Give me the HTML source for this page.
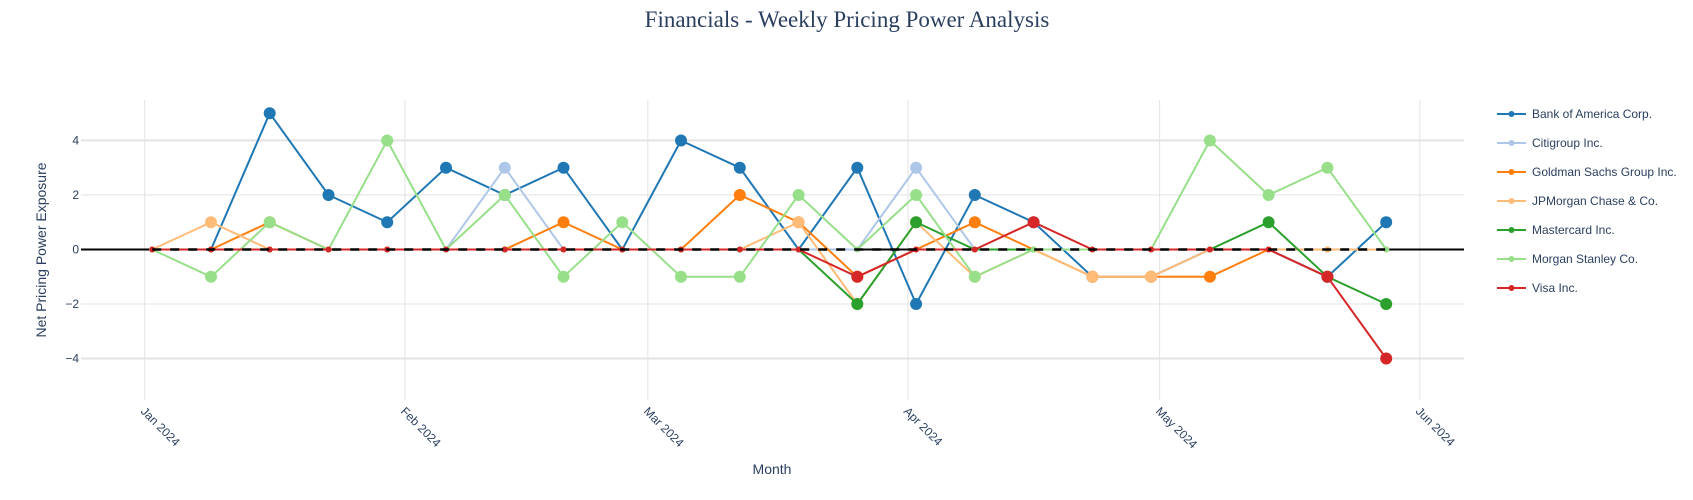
<!DOCTYPE html>
<html><head><meta charset="utf-8"><style>body{margin:0;background:#fff}svg{display:block;font-family:"Liberation Sans",sans-serif}</style></head>
<body>
<svg id="s" width="1693" height="500" xmlns="http://www.w3.org/2000/svg">
<rect width="1693" height="500" fill="#fff"/>
<text x="847" y="27" text-anchor="middle" font-family="Liberation Serif,serif" font-size="23" fill="#2a3f5f">Financials - Weekly Pricing Power Analysis</text>
<g stroke="#e3e3e3" stroke-width="1">
<line x1="81" x2="1464" y1="140.4" y2="140.4" stroke-width="2"/>
<line x1="81" x2="1464" y1="194.9" y2="194.9"/>
<line x1="81" x2="1464" y1="304" y2="304"/>
<line x1="81" x2="1464" y1="358.5" y2="358.5" stroke-width="2"/>
<line x1="144.7" x2="144.7" y1="100" y2="400"/>
<line x1="404.9" x2="404.9" y1="100" y2="400"/>
<line x1="647.8" x2="647.8" y1="100" y2="400"/>
<line x1="908" x2="908" y1="100" y2="400"/>
<line x1="1159.6" x2="1159.6" y1="100" y2="400"/>
<line x1="1419.8" x2="1419.8" y1="100" y2="400"/>
</g>
<line x1="81" x2="1464" y1="249.5" y2="249.5" stroke="#000" stroke-width="2"/>
<g font-size="12" fill="#2a3f5f" text-anchor="end">
<text x="79" y="144.5">4</text><text x="79" y="199">2</text><text x="79" y="253.5">0</text><text x="79" y="308">−2</text><text x="79" y="362.5">−4</text>
</g>
<g font-size="12" fill="#2a3f5f">
<text transform="translate(140,412) rotate(45)">Jan 2024</text>
<text transform="translate(400,412) rotate(45)">Feb 2024</text>
<text transform="translate(643,412) rotate(45)">Mar 2024</text>
<text transform="translate(903,412) rotate(45)">Apr 2024</text>
<text transform="translate(1155,412) rotate(45)">May 2024</text>
<text transform="translate(1415,412) rotate(45)">Jun 2024</text>
</g>
<text x="772" y="474" text-anchor="middle" font-size="14" fill="#2a3f5f">Month</text>
<text transform="translate(46,250) rotate(-90)" text-anchor="middle" font-size="14" fill="#2a3f5f">Net Pricing Power Exposure</text>
<g id="series"></g>
<line x1="152.2" x2="1386.2" y1="249.5" y2="249.5" stroke="#000" stroke-width="2.5" stroke-dasharray="9,9"/>
<g font-size="12" fill="#2a3f5f">
<g stroke-width="2"><line x1="1497" x2="1526" y1="114" y2="114" stroke="#1f77b4"/><line x1="1497" x2="1526" y1="143" y2="143" stroke="#aec7e8"/><line x1="1497" x2="1526" y1="172" y2="172" stroke="#ff7f0e"/><line x1="1497" x2="1526" y1="201" y2="201" stroke="#ffbb78"/><line x1="1497" x2="1526" y1="230" y2="230" stroke="#2ca02c"/><line x1="1497" x2="1526" y1="259" y2="259" stroke="#98df8a"/><line x1="1497" x2="1526" y1="288" y2="288" stroke="#d62728"/></g>
<circle cx="1511.5" cy="114" r="3" fill="#1f77b4"/><circle cx="1511.5" cy="143" r="3" fill="#aec7e8"/><circle cx="1511.5" cy="172" r="3" fill="#ff7f0e"/><circle cx="1511.5" cy="201" r="3" fill="#ffbb78"/><circle cx="1511.5" cy="230" r="3" fill="#2ca02c"/><circle cx="1511.5" cy="259" r="3" fill="#98df8a"/><circle cx="1511.5" cy="288" r="3" fill="#d62728"/>
<text x="1532" y="118">Bank of America Corp.</text>
<text x="1532" y="147">Citigroup Inc.</text>
<text x="1532" y="176">Goldman Sachs Group Inc.</text>
<text x="1532" y="205">JPMorgan Chase &amp; Co.</text>
<text x="1532" y="234">Mastercard Inc.</text>
<text x="1532" y="263">Morgan Stanley Co.</text>
<text x="1532" y="292">Visa Inc.</text>
</g>
</svg>
<script>
var S=[
["#1f77b4",[0,0,5,2,1,3,2,3,0,4,3,0,3,-2,2,1,-1,-1,0,0,-1,1]],
["#aec7e8",[0,0,0,0,0,0,3,0,0,0,0,0,0,3,0,0,0,0,0,0,0,0]],
["#ff7f0e",[0,0,1,0,0,0,0,1,0,0,2,1,-1,0,1,0,-1,-1,-1,0,0,0]],
["#ffbb78",[0,1,0,0,0,0,0,0,0,0,0,1,-2,1,-1,0,-1,-1,0,0,0,0]],
["#2ca02c",[0,0,0,0,0,0,0,0,0,0,0,0,-2,1,0,0,0,0,0,1,-1,-2]],
["#98df8a",[0,-1,1,0,4,0,2,-1,1,-1,-1,2,0,2,-1,0,0,0,4,2,3,0]],
["#d62728",[0,0,0,0,0,0,0,0,0,0,0,0,-1,0,0,1,0,0,0,0,-1,-4]]];
var g=document.getElementById('series'),h='';
S.forEach(function(s){var p=s[1].map(function(v,i){return (152.2+i*58.76).toFixed(1)+','+(249.5-v*27.26).toFixed(1)});
h+='<polyline points="'+p.join(' ')+'" fill="none" stroke="'+s[0]+'" stroke-width="2"/>';
s[1].forEach(function(v,i){h+='<circle cx="'+(152.2+i*58.76).toFixed(1)+'" cy="'+(249.5-v*27.26).toFixed(1)+'" r="'+(v?6:3)+'" fill="'+s[0]+'"/>';});});
g.innerHTML=h;
</script>
</body></html>
